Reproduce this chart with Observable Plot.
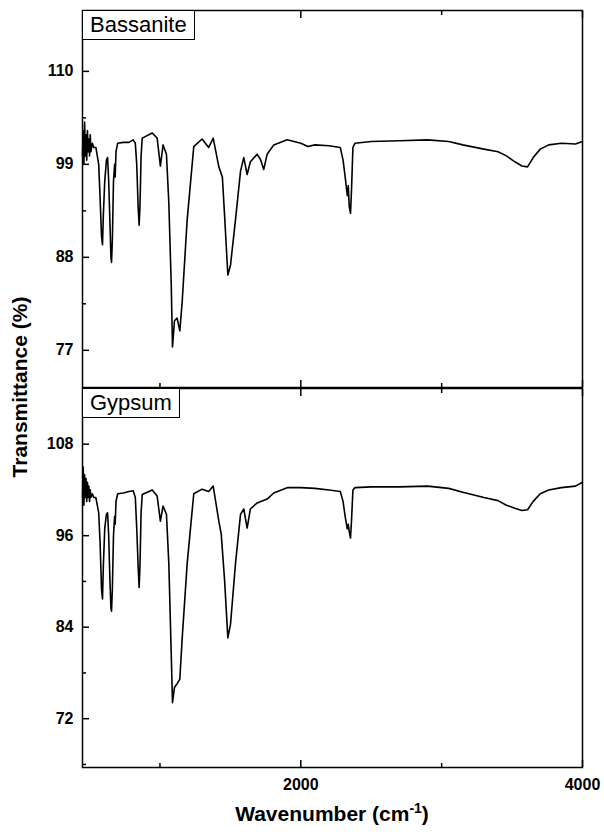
<!DOCTYPE html>
<html><head><meta charset="utf-8">
<script src="https://cdn.jsdelivr.net/npm/d3@7"></script>
<script src="https://cdn.jsdelivr.net/npm/@observablehq/plot@0.6"></script>
<style>
body{margin:0;background:#fff;font-family:"Liberation Sans",Arial,sans-serif;}
#wrap{position:relative;width:604px;height:837px;}
.p{position:absolute;left:0;}
.lbl{position:absolute;border:1px solid #000;background:#fff;font-size:22px;padding:0 7px;line-height:28px;}
#ylab{position:absolute;left:20px;top:387px;transform:translate(-50%,-50%) rotate(-90deg);font-weight:bold;font-size:21px;white-space:nowrap;}
#xlab{position:absolute;top:800px;left:332px;transform:translateX(-50%);font-weight:bold;font-size:21px;white-space:nowrap;}
svg text{font-family:"Liberation Sans",Arial,sans-serif;}
</style></head>
<body><div id="wrap">
<div id="top" class="p" style="top:0"></div>
<div id="bot" class="p" style="top:387px"></div>
<div class="lbl" style="left:82px;top:10px">Bassanite</div>
<div class="lbl" style="left:82px;top:388px">Gypsum</div>
<div id="ylab">Transmittance (%)</div>
<div id="xlab">Wavenumber (cm<sup style="font-size:14px">-1</sup>)</div>
</div>
<script>
const bassanite = [[450,100],[455,103],[460,99],[465,104],[470,100],[475,102.5],[480,99.5],[485,103],[490,100.5],[495,102],[500,100],[505,102.5],[510,100.5],[520,101.5],[530,101],[545,101],[555,100],[565,99],[575,95],[585,90.5],[592,89.5],[598,93],[608,97],[620,99.5],[628,99.8],[636,97],[645,92],[652,88],[656,87.4],[662,90],[670,97],[678,99],[682,97.5],[688,100.5],[700,101.5],[740,101.6],[780,101.6],[810,101.9],[825,101.5],[835,99],[845,94],[852,91.8],[858,94],[866,100],[874,102.1],[945,102.7],[980,102.1],[1003,98.8],[1022,101.3],[1046,100.2],[1063,94.4],[1080,84.8],[1089,77.4],[1103,80.5],[1122,80.8],[1141,79.3],[1158,82.8],[1193,92.4],[1240,101.1],[1299,102],[1346,101],[1378,102.1],[1418,98.7],[1443,97.5],[1459,92.9],[1482,85.9],[1501,87.1],[1536,92.4],[1572,98.2],[1595,99.8],[1619,97.8],[1642,99.3],[1690,100.2],[1713,99.6],[1737,98.4],[1761,100.2],[1808,101.3],[1903,101.9],[2000,101.5],[2050,101.1],[2100,101.3],[2200,101.2],[2280,101],[2300,99.5],[2315,97.5],[2330,95.3],[2337,96.5],[2344,94],[2353,93.2],[2360,96],[2370,101],[2385,101.5],[2500,101.7],[2700,101.8],[2900,101.9],[3050,101.7],[3150,101.3],[3300,100.8],[3400,100.5],[3460,100],[3520,99.3],[3570,98.8],[3610,98.7],[3650,99.8],[3700,100.8],[3760,101.3],[3850,101.5],[3950,101.4],[4000,101.7]];
const gypsum = [[450,101],[455,105],[460,100],[465,104],[470,101],[475,103.5],[480,100.5],[485,103],[490,101],[495,102.5],[500,100.5],[505,102],[510,101],[520,101.5],[530,101],[545,101],[555,100],[565,99],[575,95],[585,89],[592,87.7],[598,92],[608,97],[620,98.8],[628,99],[636,96],[645,90],[652,86.5],[656,86.1],[662,89],[670,96],[678,98.5],[682,97.5],[688,100.5],[700,101.5],[740,101.6],[780,101.8],[810,101.9],[825,101],[835,97],[845,92],[852,89.2],[858,92],[866,99],[874,101.4],[945,102],[980,101.2],[1003,97.9],[1022,99.9],[1046,98.8],[1063,92.3],[1080,80.5],[1089,74.1],[1103,76.1],[1122,76.6],[1141,77.2],[1158,82.6],[1193,92.3],[1240,101.5],[1299,102.1],[1346,101.8],[1378,102.5],[1418,97.9],[1435,96.2],[1459,90.1],[1482,82.6],[1501,84.4],[1536,92.3],[1572,98.8],[1595,99.5],[1619,97],[1642,99.5],[1690,100.3],[1761,100.8],[1808,101.6],[1903,102.3],[2000,102.3],[2100,102.2],[2200,102],[2280,101.8],[2300,100.5],[2315,98.5],[2330,96.9],[2337,97.5],[2344,96.5],[2353,95.7],[2360,98],[2370,102],[2385,102.3],[2500,102.4],[2700,102.4],[2900,102.5],[3050,102.2],[3150,101.7],[3300,101],[3400,100.6],[3460,100],[3520,99.6],[3570,99.3],[3610,99.4],[3650,100.5],[3700,101.5],[3760,102],[3850,102.3],[3950,102.5],[4000,103]];
const xMajor = [2000, 4000];
const xMinor = [1000, 3000];
const topMajor = [77, 88, 99, 110];
const topMinor = [82.5, 93.5, 104.5, 115.5];
const botMajor = [72, 84, 96, 108];
const botMinor = [66, 78, 90, 102, 114];

function panel(data, yDom, major, minor, opts) {
  return Plot.plot({
    width: 604, height: opts.height, marginLeft: 82, marginRight: 22,
    marginTop: opts.mt, marginBottom: opts.mb,
    x: {domain: [450, 4000]}, y: {domain: yDom},
    style: {fontSize: "16px", fontWeight: "bold", color: "#000"},
    marks: [
      Plot.frame({stroke: "#000", strokeWidth: 1.5}),
      Plot.line(data, {x: d => d[0], y: d => d[1], stroke: "#000", strokeWidth: 1.6}),
      Plot.axisY(major, {anchor: "left", tickSize: -7, tickPadding: 16, label: null, strokeWidth: 1.5}),
      Plot.axisY(minor, {anchor: "left", tickSize: -4, tickFormat: () => "", label: null, strokeWidth: 1.5}),
      Plot.axisX(xMajor, {anchor: "top", tickSize: -7, tickFormat: () => "", label: null, strokeWidth: 1.5}),
      Plot.axisX(xMinor, {anchor: "top", tickSize: -4, tickFormat: () => "", label: null, strokeWidth: 1.5}),
      Plot.axisX(xMajor, {anchor: "bottom", tickSize: -7, tickPadding: 18, tickFormat: opts.labels ? (d => String(d)) : () => "", label: null, strokeWidth: 1.5}),
      Plot.axisX(xMinor, {anchor: "bottom", tickSize: -4, tickFormat: () => "", label: null, strokeWidth: 1.5})
    ]
  });
}
document.getElementById("top").append(panel(bassanite, [72.6, 117.2], topMajor, topMinor, {height: 388, mt: 10, mb: 1, labels: false}));
document.getElementById("bot").append(panel(gypsum, [65.6, 115.3], botMajor, botMinor, {height: 449, mt: 1, mb: 69, labels: true}));
</script></body></html>
